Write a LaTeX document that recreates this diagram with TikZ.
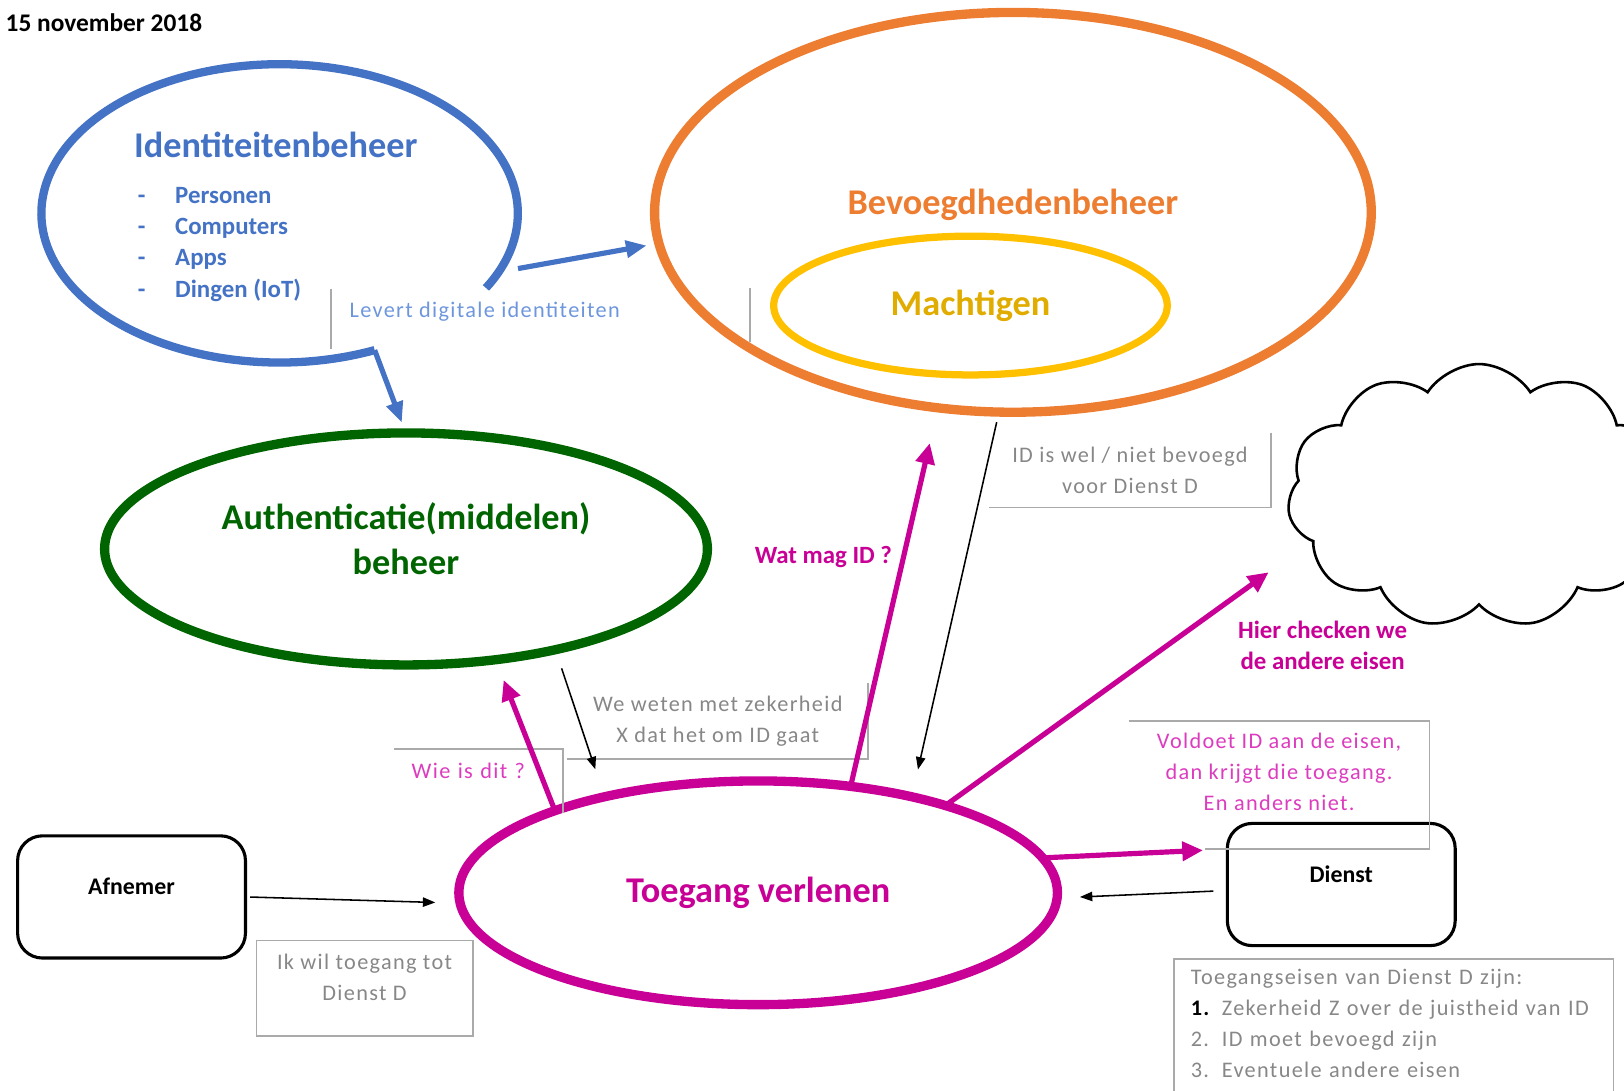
\documentclass[tikz,border=0pt]{standalone}
\usepackage{fontspec}
\setmainfont{Carlito}
\newfontfamily\notefont[LetterSpace=6]{Carlito}
\usetikzlibrary{shapes,arrows.meta,positioning,calc}

\definecolor{idblue}{RGB}{68,114,196}
\definecolor{levblue}{RGB}{110,150,220}
\definecolor{bevorange}{RGB}{237,125,49}
\definecolor{machyellow}{RGB}{255,192,0}
\definecolor{machtext}{RGB}{225,172,0}
\definecolor{authgreen}{RGB}{0,100,0}
\definecolor{togmag}{RGB}{200,0,150}
\definecolor{lightmag}{RGB}{220,60,190}
\definecolor{notegray}{RGB}{135,135,135}
\definecolor{linegray}{RGB}{170,170,170}

\tikzset{
  bubble/.style={ellipse, line width=9pt, outer sep=0pt, inner sep=0pt, align=center, font=\bfseries\fontsize{35}{44}\selectfont},
  party/.style={draw, line width=3pt, rounded corners=24pt, minimum width=220pt, minimum height=118pt, text depth=20pt, font=\bfseries\fontsize{23}{26}\selectfont},
  note/.style={inner sep=0pt, align=center, font=\notefont\fontsize{21.5}{30}\selectfont, text=notegray},
  noteline/.style={draw=linegray, line width=1.5pt},
  magarrow/.style={draw=togmag, line width=5pt, -{Triangle[length=20pt,width=18pt]}},
  thinarrow/.style={draw=black, line width=1.5pt, -{Triangle[length=12pt,width=9pt]}},
  idarrow/.style={draw=idblue, line width=5pt, -{Triangle[length=20pt,width=16pt]}},
}

\begin{document}
\begin{tikzpicture}[x=1pt,y=-1pt]
    \useasboundingbox (0,0) rectangle (1568,1053);

    \node[anchor=west, font=\bfseries\fontsize{24.5}{28}\selectfont] (date) at (2,22) {15 november 2018};

    \node[ellipse, minimum width=460pt, minimum height=288pt, outer sep=0pt] (idm) at (270,206) {};
    \draw[idblue, line width=8pt] ($(idm.center)+(66.5:230 and 144)$) arc[start angle=66.5, end angle=390, x radius=230, y radius=144];
    \node[anchor=west, text=idblue, font=\bfseries\fontsize{35}{40}\selectfont] (idtitle) at (126,140) {Identiteitenbeheer};
    \node[anchor=north west, inner sep=0pt, align=left, text=idblue, font=\bfseries\fontsize{24}{30}\selectfont] (idlist) at (133,181)
        {\makebox[36pt][l]{-}Personen\\ \makebox[36pt][l]{-}Computers\\ \makebox[36pt][l]{-}Apps\\ \makebox[36pt][l]{-}Dingen (IoT)};
    \node[note, text=levblue, minimum width=296pt, minimum height=58pt, text depth=17pt] (levnote) at (468,308) {Levert digitale identiteiten};
    \draw[noteline] (levnote.north west) -- (levnote.south west);

    \node[bubble, draw=bevorange, text=bevorange, minimum width=692pt, minimum height=386pt, text depth=20pt] (bev) at (978,205) {Bevoegdhedenbeheer};
    \node[bubble, draw=machyellow, text=machtext, line width=7pt, minimum width=380pt, minimum height=134pt] (macht) at (937,295) {Machtigen};
    \draw[noteline] (724,278) -- (724,330);

    \node[bubble, draw=authgreen, text=authgreen, minimum width=582pt, minimum height=224pt, text depth=20pt] (auth) at (392,530) {Authenticatie(middelen)\\beheer};
    \node[bubble, draw=togmag, text=togmag, minimum width=578pt, minimum height=216pt] (tog) at (732,862) {Toegang verlenen};

    \node[party] (afn) at (127,866) {Afnemer};
    \node[party] (die) at (1295,854) {Dienst};
    \node[cloud, draw, line width=2.5pt, cloud puffs=11, cloud puff arc=115, aspect=1.45, minimum width=370pt, minimum height=255pt, outer sep=0pt] (cloud) at (1428,479) {};

    \node[note, minimum width=272pt, minimum height=72pt] (idnote) at (1091,454) {ID is wel / niet bevoegd\\voor Dienst D};
    \draw[noteline] (idnote.north east) -- (idnote.south east) -- (idnote.south west);
    \node[note, minimum width=290pt, minimum height=73pt] (wenote) at (693,696) {We weten met zekerheid\\X dat het om ID gaat};
    \draw[noteline] (wenote.north east) -- (wenote.south east) -- (wenote.south west);
    \node[note, text=lightmag, align=left, inner xsep=17pt, text width=129pt, minimum width=163pt, minimum height=61pt, text depth=19pt] (wienote) at (462,754) {Wie is dit ?};
    \draw[noteline] (wienote.north west) -- (wienote.north east) -- (wienote.south east);
    \node[note, draw=linegray, line width=1.5pt, minimum width=209pt, minimum height=92pt, text depth=21pt] (iknote) at (352,954) {Ik wil toegang tot\\Dienst D};
    \node[note, text=lightmag, minimum width=290pt, minimum height=123pt, text depth=25pt] (volnote) at (1235,758) {Voldoet ID aan de eisen,\\dan krijgt die toegang.\\En anders niet.};
    \draw[noteline] (volnote.north west) -- (volnote.north east) -- (volnote.south east) -- ++(-217,0);
    \node[note, draw=linegray, line width=1.5pt, anchor=north west, align=left, inner xsep=16pt, inner ysep=10pt, text width=392pt, text depth=115pt] (eisnote) at (1133,925)
        {Toegangseisen van Dienst D zijn:\\ \makebox[30pt][l]{\textcolor{black}{\textbf{1.}}}Zekerheid Z over de juistheid van ID\\ \makebox[30pt][l]{2.}ID moet bevoegd zijn\\ \makebox[30pt][l]{3.}Eventuele andere eisen};

    \node[text=togmag, font=\bfseries\fontsize{24}{28}\selectfont] (watlab) at (795,538) {Wat mag ID ?};
    \node[text=togmag, align=center, font=\bfseries\fontsize{24}{30}\selectfont] (hierlab) at (1277,623) {Hier checken we\\de andere eisen};

    \draw[idarrow, shorten <=19pt, shorten >=12pt] (idm.-15) -- (bev.185);
    \draw[idarrow] ($(idm.center)+(66.5:230 and 144)$) -- ([xshift=-4pt,yshift=10pt]auth.north);
    \draw[magarrow, shorten >=21pt] (tog.158) -- (auth.-51);
    \draw[thinarrow, shorten <=19pt, shorten >=28pt] (auth.-34) -- (tog.148);
    \draw[magarrow, shorten >=35pt] (tog.49) -- (bev.-111);
    \draw[thinarrow, shorten <=10pt, shorten >=27pt] (bev.-94) -- (tog.32);
    \draw[magarrow, shorten >=52pt] (tog.25) -- (cloud.195);
    \draw[magarrow, shorten >=22pt] (tog.7) -- (die.163);
    \draw[thinarrow, shorten <=12pt, shorten >=22pt] (die.183) -- (tog.-1);
    \draw[thinarrow, shorten <=3pt, shorten >=24pt] (afn.east) -- (tog.182);
\end{tikzpicture}
\end{document}
